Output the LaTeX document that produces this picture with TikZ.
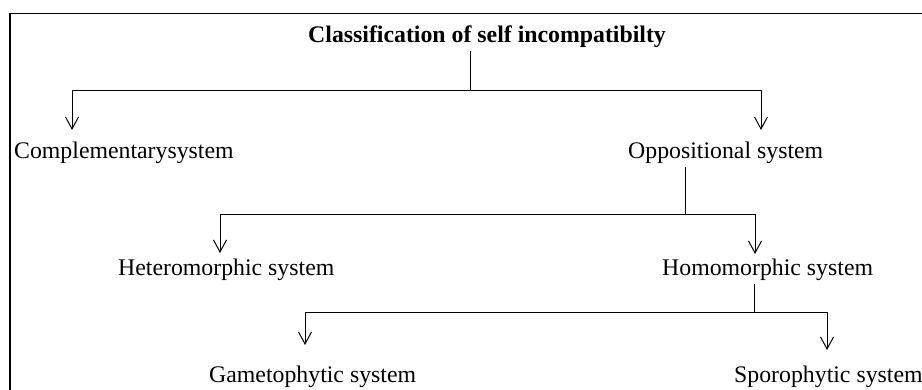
\documentclass[tikz,border=0pt]{standalone}
\usepackage{fontspec}
\setmainfont{Liberation Serif}
\usetikzlibrary{arrows.meta,positioning}

\begin{document}
\begin{tikzpicture}[
  x=1pt, y=-1pt,
  sys/.style     = {anchor=base west, inner xsep=0pt, inner ysep=3pt,
                    font=\fontsize{23.8}{28}\selectfont},
  heading/.style = {sys, font=\fontsize{23.8}{28}\selectfont\bfseries},
  link/.style    = {line width=1pt},
  arr/.style     = {link, -{Straight Barb[length=12pt,width=13pt]}},
  frame/.style   = {line width=1.2pt},
]
\useasboundingbox (0,0) rectangle (922,390);
\draw[frame] (922,13.5) -- (10,13.5) -- (10,390);
\node[heading] (root)   at (308,43)  {Classification of self incompatibilty};
\node[sys]     (comp)   at (14,159)  {Complementarysystem};
\node[sys]     (opp)    at (628,159) {Oppositional system};
\node[sys]     (hetero) at (118,276) {Heteromorphic system};
\node[sys]     (homo)   at (662,276) {Homomorphic system};
\node[sys]     (gameto) at (209,382) {Gametophytic system};
\node[sys]     (sporo)  at (734,382) {Sporophytic system};
\coordinate (j1)  at (470,91);
\coordinate (t1a) at (72,130);
\coordinate (t1b) at (761,130);
\coordinate (j2)  at (685,215);
\coordinate (t2a) at (220,253);
\coordinate (t2b) at (755,254);
\coordinate (j3)  at (754,313);
\coordinate (t3a) at (305,345);
\coordinate (t3b) at (827,350);
\draw[link] (root.south -| j1) -- (j1);
\draw[arr]  (j1) -| (t1a);
\draw[arr]  (j1) -| (t1b);
\draw[link] (opp.south -| j2) -- (j2);
\draw[arr]  (j2) -| (t2a);
\draw[arr]  (j2) -| (t2b);
\draw[link] (homo.south -| j3) -- (j3);
\draw[arr]  (j3) -| (t3a);
\draw[arr]  (j3) -| (t3b);
\end{tikzpicture}
\end{document}
